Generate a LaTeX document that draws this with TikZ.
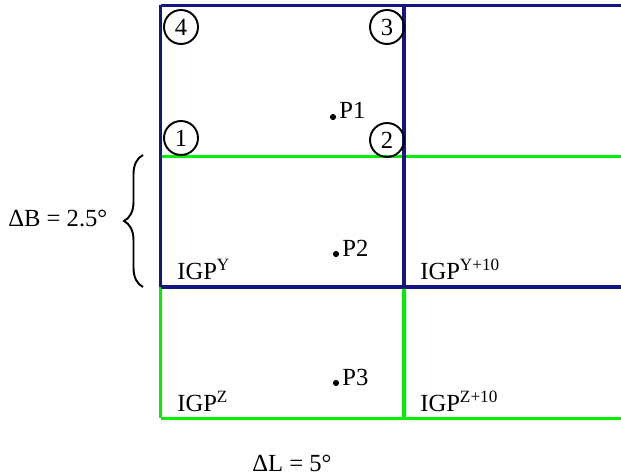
\documentclass[tikz,border=0pt]{standalone}
\usepackage{fontspec}
\setmainfont{Liberation Serif}
\usepackage{xcolor}
\usepackage{tikz}
\usetikzlibrary{positioning,decorations.pathreplacing}
\definecolor{navyline}{RGB}{20,20,130}
\definecolor{greenline}{RGB}{0,240,0}
\begin{document}
\begin{tikzpicture}[x=0.02cm,y=-0.02cm,
  font=\fontsize{14}{16}\selectfont,
  bl/.style={draw=navyline,line width=2.1pt},
  gl/.style={draw=greenline,line width=2.1pt},
  num/.style={draw,circle,line width=1.1pt,minimum size=0.68cm,inner sep=0pt},
  dotn/.style={circle,fill,inner sep=0pt,minimum size=3.5pt},
  lab/.style={anchor=base west,inner sep=0pt}]
\useasboundingbox (0,0) rectangle (621,475);
% green grid (below)
\draw[gl] (160.5,156.5) -- (640,156.5);
\draw[gl] (160.5,418.5) -- (640,418.5);
\draw[gl] (160.5,156.5) -- (160.5,418.5);
\draw[gl] (404,156.5) -- (404,418.5);
% blue grid (on top)
\draw[bl] (160.5,5.5) -- (640,5.5);
\draw[bl] (160.5,287) -- (640,287);
\draw[bl] (160.5,5.5) -- (160.5,287);
\draw[bl] (404,5.5) -- (404,287);
% corner numbers
\node[num] (c1) at (181,138) {1};
\node[num] (c2) at (387,140) {2};
\node[num] (c3) at (387,27)  {3};
\node[num] (c4) at (181,27)  {4};
% points
\node[dotn] (p1) at (333,117) {};
\node[lab] (p1t) at (339,119) {P1};
\node[dotn] (p2) at (336,254) {};
\node[lab] (p2t) at (342,257) {P2};
\node[dotn] (p3) at (336,383) {};
\node[lab] (p3t) at (342,386) {P3};
% grid point labels
\node[lab] (igpy)  at (177,280) {IGP\textsuperscript{Y}};
\node[lab] (igpy10) at (420,280) {IGP\textsuperscript{Y+10}};
\node[lab] (igpz)  at (177,412) {IGP\textsuperscript{Z}};
\node[lab] (igpz10) at (420,412) {IGP\textsuperscript{Z+10}};
% spacings
\coordinate (bb) at (143,287);
\coordinate (bt) at (143,155);
\draw[line width=1.1pt,decorate,decoration={brace,amplitude=0.38cm}] (bb) -- (bt);
\node[lab] (db) at (8,227) {ΔB = 2.5°};
\node[lab] (dl) at (252,471) {ΔL = 5°};
\end{tikzpicture}
\end{document}
